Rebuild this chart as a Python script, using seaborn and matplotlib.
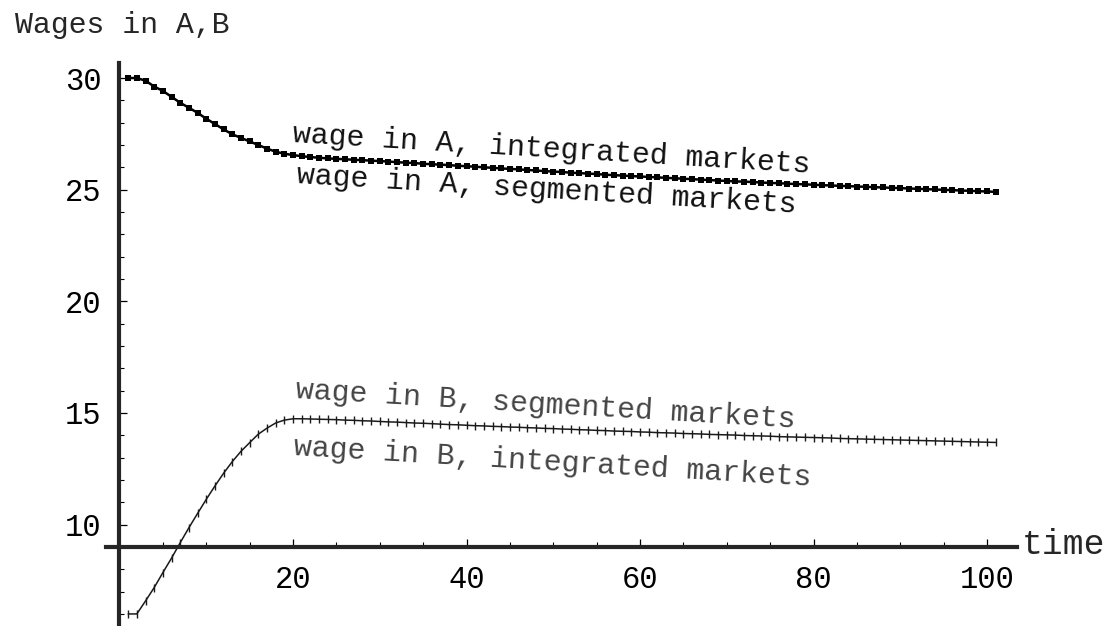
import pandas as pd
import matplotlib.pyplot as plt
import seaborn as sns
from matplotlib.ticker import MultipleLocator

# time steps and the wage paths
time = list(range(1, 102))

wage_A = [
    30.00, 30.00, 29.88, 29.62, 29.42, 29.16, 28.89, 28.67, 28.44, 28.18,
    27.94, 27.70, 27.48, 27.32, 27.16, 27.00, 26.84, 26.70, 26.61, 26.55,
    26.50, 26.46, 26.43, 26.40, 26.38, 26.36, 26.34, 26.32, 26.30, 26.28,
    26.26, 26.23, 26.21, 26.19, 26.16, 26.14, 26.12, 26.10, 26.07, 26.05,
    26.03, 26.00, 25.98, 25.95, 25.93, 25.91, 25.88, 25.86, 25.83, 25.81,
    25.79, 25.76, 25.74, 25.72, 25.70, 25.67, 25.65, 25.63, 25.61, 25.59,
    25.57, 25.55, 25.53, 25.51, 25.49, 25.47, 25.45, 25.43, 25.41, 25.39,
    25.37, 25.36, 25.34, 25.32, 25.30, 25.29, 25.27, 25.25, 25.24, 25.22,
    25.20, 25.19, 25.17, 25.16, 25.14, 25.13, 25.11, 25.10, 25.08, 25.07,
    25.05, 25.04, 25.02, 25.01, 24.99, 24.98, 24.96, 24.95, 24.93, 24.92,
    24.90,
]

wage_B = [
    6.00, 6.00, 6.58, 7.18, 7.85, 8.50, 9.19, 9.86, 10.50, 11.13,
    11.73, 12.30, 12.82, 13.28, 13.67, 14.05, 14.32, 14.55, 14.68, 14.74,
    14.74, 14.73, 14.72, 14.71, 14.70, 14.68, 14.67, 14.65, 14.64, 14.62,
    14.60, 14.59, 14.57, 14.55, 14.54, 14.52, 14.50, 14.48, 14.47, 14.45,
    14.43, 14.42, 14.40, 14.39, 14.37, 14.36, 14.34, 14.33, 14.31, 14.30,
    14.28, 14.27, 14.25, 14.24, 14.22, 14.21, 14.19, 14.18, 14.17, 14.15,
    14.14, 14.12, 14.11, 14.10, 14.08, 14.07, 14.06, 14.04, 14.03, 14.02,
    14.01, 13.99, 13.98, 13.97, 13.96, 13.94, 13.93, 13.92, 13.91, 13.90,
    13.89, 13.88, 13.86, 13.85, 13.84, 13.83, 13.82, 13.81, 13.80, 13.79,
    13.78, 13.77, 13.76, 13.75, 13.74, 13.73, 13.72, 13.71, 13.70, 13.69,
    13.68,
]

x_ticks = [20, 40, 60, 80, 100]
y_ticks = [10, 15, 20, 25, 30]

df = pd.DataFrame({"time": time, "A": wage_A, "B": wage_B})

sns.set_style("white")
plt.rcParams["font.family"] = ["Liberation Mono", "DejaVu Sans Mono"]
plt.rcParams["font.size"] = 21

fig = plt.figure(figsize=(11.11, 6.26), dpi=100)
W, H = 1111, 626
# axes box in pixels (x: -1.6..103.5, y: 5.46..30.65)
left_px, right_px, top_px, bot_px = 105.6, 1017.4, 63.5, 626
ax = fig.add_axes([left_px / W, 0, (right_px - left_px) / W, (bot_px - top_px) / H])
ax.set_xlim(-1.6, 103.5)
ax.set_ylim(5.46, 30.65)

# wage in A: integrated line + segmented squares
sns.lineplot(data=df, x="time", y="A", ax=ax, color="black", lw=1.8)
sns.scatterplot(data=df, x="time", y="A", ax=ax, marker="s", s=18,
                color="black", linewidth=0)
# wage in B: segmented line + integrated tick marks
sns.lineplot(data=df, x="time", y="B", ax=ax, color="#1a1a1a", lw=1.1)
sns.scatterplot(data=df, x="time", y="B", ax=ax, marker="|", s=30,
                color="#1a1a1a", linewidth=1.0)

# Mathematica-style crossing axes
for side in ["top", "right"]:
    ax.spines[side].set_visible(False)
ax.spines["left"].set_position(("data", 0))
ax.spines["bottom"].set_position(("data", 9))
ax.spines["left"].set_linewidth(3)
ax.spines["bottom"].set_linewidth(3)

ax.set_xticks(x_ticks)
ax.set_yticks(y_ticks)
ax.xaxis.set_minor_locator(MultipleLocator(5))
ax.yaxis.set_minor_locator(MultipleLocator(1))
ax.tick_params(which="major", direction="in", length=6, width=0.9,
               colors="black", labelsize=22, pad=13)
ax.tick_params(which="minor", direction="in", length=3.5, width=0.8,
               colors="black")
ax.tick_params(axis="x", bottom=True, which="both")
ax.tick_params(axis="y", left=True, which="both")
ax.set_xlabel("")
ax.set_ylabel("")
ax.grid(False)

ax.text(104.05, 9.1, "time", fontsize=25, ha="left", va="center", clip_on=False)
fig.text(15 / W, 1 - 33 / H, "Wages in A,B", fontsize=21.5, ha="left", va="baseline")

# curve labels
rot = -3.4
ax.text(19.9, 27.15, "wage in A, integrated markets", fontsize=21.5, color="#111111",
        rotation=rot, rotation_mode="anchor", ha="left", va="baseline")
ax.text(20.4, 25.3, "wage in A, segmented markets", fontsize=21.5, color="#111111",
        rotation=rot, rotation_mode="anchor", ha="left", va="baseline")
ax.text(20.3, 15.65, "wage in B, segmented markets", fontsize=21.5, color="#444444",
        rotation=rot, rotation_mode="anchor", ha="left", va="baseline")
ax.text(20.0, 13.12, "wage in B, integrated markets", fontsize=21.5, color="#444444",
        rotation=rot, rotation_mode="anchor", ha="left", va="baseline")

fig.savefig("out.png", dpi=100)
